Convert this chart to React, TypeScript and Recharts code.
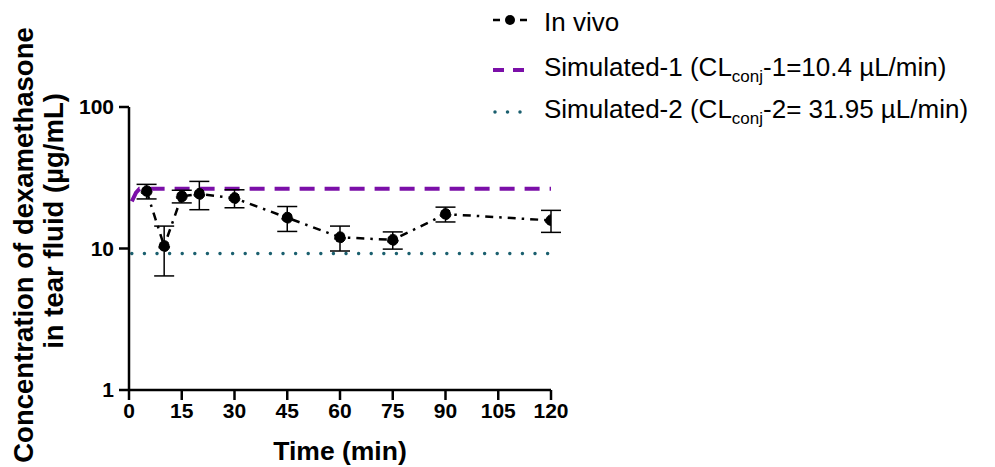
import React from 'react';
import { ComposedChart, Line, XAxis, YAxis, ErrorBar, Label } from 'recharts';

const times = [5, 10, 15, 20, 30, 45, 60, 75, 90, 120];
const inVivoMean = [25.4, 10.4, 23.4, 24.3, 22.7, 16.5, 12.0, 11.5, 17.5, 15.8];
const inVivoSd = [3.0, 4.0, 2.4, 5.5, 3.3, 3.3, 2.4, 1.6, 2.1, 2.8];

const sim1Times = [0.8, 2, 3, 120];
const sim1Values = [21.5, 24.8, 26.4, 26.4];

const sim2Times = [0.8, 120];
const sim2Values = [9.2, 9.2];

const xTicks = [0, 15, 30, 45, 60, 75, 90, 105, 120];
const yTicks = [1, 10, 100];

const PURPLE = '#7b0fa8';
const TEAL = '#1a5f6e';
const FONT = '"Liberation Sans", Arial, sans-serif';

const inVivoData = times.map((t, i) => ({
  t,
  v: inVivoMean[i],
  err: [inVivoSd[i], inVivoSd[i]],
}));
const sim1Data = sim1Times.map((t, i) => ({ t, v: sim1Values[i] }));
const sim2Data = sim2Times.map((t, i) => ({ t, v: sim2Values[i] }));

const YLabel = (props: any) => {
  const vb = props.viewBox;
  const x = vb.x;
  return (
    <g style={{ fontFamily: FONT, fontWeight: 700, fontSize: 27.5 }} fill="#000">
      <text x={x + 33} y={245} transform={`rotate(-90, ${x + 33}, 245)`} textAnchor="middle">
        Concentration of dexamethasone
      </text>
      <text x={x + 63} y={221} transform={`rotate(-90, ${x + 63}, 221)`} textAnchor="middle">
        in tear fluid (µg/mL)
      </text>
    </g>
  );
};

const XLabel = (props: any) => {
  const vb = props.viewBox;
  return (
    <text
      x={vb.x + vb.width / 2}
      y={vb.y + vb.height + 20}
      textAnchor="middle"
      style={{ fontFamily: FONT, fontWeight: 700, fontSize: 26.5 }}
      fill="#000"
    >
      Time (min)
    </text>
  );
};

const legendRow: React.CSSProperties = {
  display: 'flex',
  alignItems: 'center',
  height: 44,
  whiteSpace: 'nowrap',
};

const Legend = () => (
  <div
    style={{
      position: 'absolute',
      left: 490,
      top: -1,
      fontFamily: FONT,
      fontSize: 26,
      color: '#000',
    }}
  >
    <div style={{ ...legendRow, height: 47, alignItems: 'flex-start', paddingTop: 8, boxSizing: 'border-box' }}>
      <svg width={40} height={20} style={{ marginRight: 14, marginTop: 3 }}>
        <line x1={3} y1={10} x2={37} y2={10} stroke="#000" strokeWidth={2.5} strokeDasharray="7 20" />
        <circle cx={20} cy={10} r={5} fill="#000" />
      </svg>
      <span>In vivo</span>
    </div>
    <div style={{ ...legendRow, marginTop: 2 }}>
      <svg width={40} height={20} style={{ marginRight: 14 }}>
        <line x1={3} y1={10} x2={37} y2={10} stroke={PURPLE} strokeWidth={4} strokeDasharray="11 9" />
      </svg>
      <span>
        Simulated-1 (CL<sub style={{ fontSize: 17 }}>conj</sub>-1=10.4 µL/min)
      </span>
    </div>
    <div style={{ ...legendRow, marginTop: -2 }}>
      <svg width={40} height={20} style={{ marginRight: 14 }}>
        <line
          x1={5}
          y1={10}
          x2={36}
          y2={10}
          stroke={TEAL}
          strokeWidth={3.5}
          strokeLinecap="round"
          strokeDasharray="0 12.5"
        />
      </svg>
      <span>
        Simulated-2 (CL<sub style={{ fontSize: 17 }}>conj</sub>-2= 31.95 µL/min)
      </span>
    </div>
  </div>
);

export default function App() {
  return (
    <div style={{ position: 'absolute', left: 0, top: 0, width: 995, height: 467, background: '#fff' }}>
      <ComposedChart
        width={995}
        height={467}
        margin={{ top: 107, right: 444, bottom: 27, left: 0 }}
      >
        <XAxis
          dataKey="t"
          type="number"
          domain={[0, 120]}
          ticks={xTicks}
          allowDataOverflow
          height={50}
          axisLine={{ stroke: '#000', strokeWidth: 2.5 }}
          tickLine={{ stroke: '#000', strokeWidth: 2.5 }}
          tickSize={10}
          tickMargin={3}
          tick={{ fill: '#000', fontSize: 21, fontWeight: 700, fontFamily: FONT }}
        >
          <Label content={XLabel} />
        </XAxis>
        <YAxis
          type="number"
          scale="log"
          domain={[1, 100]}
          ticks={yTicks}
          allowDataOverflow
          width={129}
          axisLine={{ stroke: '#000', strokeWidth: 2.5 }}
          tickLine={{ stroke: '#000', strokeWidth: 2.5 }}
          tickSize={10}
          tickMargin={5}
          tick={{ fill: '#000', fontSize: 21, fontWeight: 700, fontFamily: FONT }}
        >
          <Label content={YLabel} />
        </YAxis>
        <Line
          data={sim1Data}
          dataKey="v"
          type="linear"
          stroke={PURPLE}
          strokeWidth={4}
          strokeDasharray="15 10"
          dot={false}
          activeDot={false}
          isAnimationActive={false}
        />
        <Line
          data={sim2Data}
          dataKey="v"
          type="linear"
          stroke={TEAL}
          strokeWidth={3.5}
          strokeLinecap="round"
          strokeDasharray="0 12.6"
          dot={false}
          activeDot={false}
          isAnimationActive={false}
        />
        <Line
          data={inVivoData}
          dataKey="v"
          type="linear"
          stroke="#000"
          strokeWidth={2.5}
          strokeDasharray="8 6 2.5 6"
          dot={{ r: 5.5, fill: '#000', stroke: '#000', strokeWidth: 1 }}
          activeDot={false}
          isAnimationActive={false}
        >
          <ErrorBar dataKey="err" width={10} stroke="#000" strokeWidth={1.5} direction="y" />
        </Line>
      </ComposedChart>
      <Legend />
    </div>
  );
}
